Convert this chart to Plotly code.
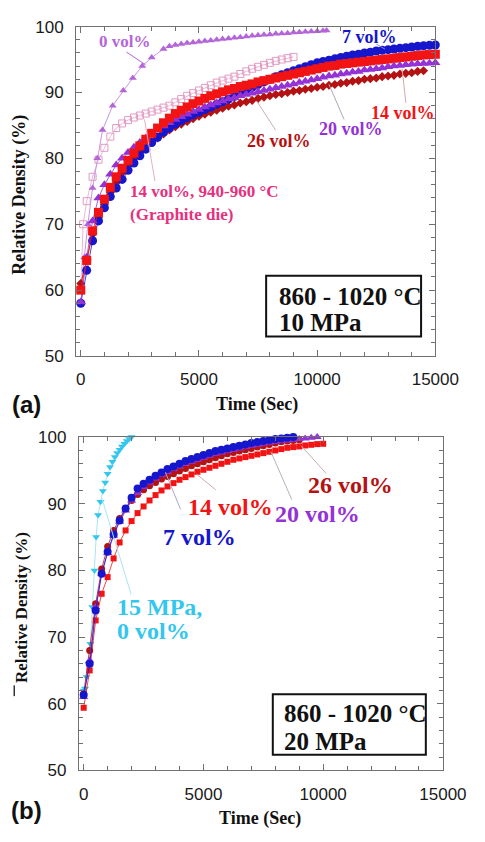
import plotly.graph_objects as go

W, H = 485, 842

# ---------------- data ----------------
T_GRID = [0, 250, 500, 750, 1000, 1250, 1500, 1750, 2000, 2250, 2500, 2750, 3000, 3250, 3500, 3750,
          4000, 4250, 4500, 4750, 5000, 5250, 5500, 5750, 6000, 6250, 6500, 6750, 7000, 7250, 7500,
          7750, 8000, 8250, 8500, 8750, 9000, 9250, 9500, 9750, 10000, 10250, 10500, 10750, 11000,
          11250, 11500, 11750, 12000, 12250, 12500, 12750, 13000, 13250, 13500, 13750, 14000, 14250,
          14500, 14750, 15000]

# (a) 10 MPa
a_7vol = [58.0, 63.0, 67.5, 70.5, 72.5, 74.2, 75.5, 76.8, 78.2, 79.3, 80.4, 81.4, 82.4, 83.2, 84.0, 84.6,
          85.2, 85.7, 86.2, 86.6, 87.0, 87.4, 87.8, 88.2, 88.6, 89.0, 89.4, 89.9, 90.4, 90.8, 91.2,
          91.6, 92.0, 92.4, 92.7, 93.0, 93.3, 93.6, 93.9, 94.2, 94.5, 94.7, 94.9, 95.1, 95.3,
          95.5, 95.7, 95.8, 96.0, 96.1, 96.3, 96.4, 96.5, 96.6, 96.7, 96.8, 96.9, 97.0,
          97.1, 97.15, 97.2]
a_14vol = [60.0, 64.5, 69.0, 71.8, 73.8, 75.6, 77.2, 78.5, 79.7, 80.8, 81.9, 82.9, 83.8, 84.6, 85.4, 86.1,
           86.8, 87.3, 87.8, 88.3, 88.7, 89.1, 89.5, 89.8, 90.1, 90.4, 90.6, 90.9, 91.1, 91.3, 91.6,
           91.8, 92.0, 92.2, 92.4, 92.6, 92.8, 93.0, 93.2, 93.4, 93.6, 93.8, 94.0, 94.1, 94.3,
           94.4, 94.5, 94.6, 94.7, 94.8, 94.9, 95.0, 95.1, 95.2, 95.3, 95.4, 95.5, 95.6,
           95.7, 95.75, 95.8]
a_20vol = [58.2, 65.0, 70.5, 74.0, 76.0, 77.6, 79.0, 80.0, 80.9, 81.7, 82.4, 83.1, 83.8, 84.4, 84.9, 85.4,
           85.9, 86.3, 86.7, 87.1, 87.4, 87.8, 88.1, 88.4, 88.7, 89.0, 89.2, 89.5, 89.7, 89.9, 90.1,
           90.3, 90.5, 90.7, 90.9, 91.1, 91.3, 91.5, 91.7, 91.9, 92.1, 92.3, 92.5, 92.6, 92.8,
           92.9, 93.1, 93.2, 93.4, 93.5, 93.6, 93.7, 93.9, 94.0, 94.1, 94.2, 94.3, 94.35,
           94.4, 94.45, 94.5]
a_26vol = [61.0, 64.5, 68.5, 71.0, 73.0, 74.8, 76.4, 77.8, 79.0, 80.0, 80.9, 81.7, 82.5, 83.1, 83.7, 84.3,
           84.8, 85.2, 85.6, 86.0, 86.4, 86.7, 87.0, 87.3, 87.6, 87.9, 88.1, 88.4, 88.6, 88.8, 89.1,
           89.3, 89.5, 89.7, 89.8, 90.0, 90.2, 90.3, 90.5, 90.6, 90.8, 90.9, 91.1, 91.2, 91.4,
           91.5, 91.7, 91.8, 92.0, 92.1, 92.2, 92.4, 92.5, 92.6, 92.8, 92.9, 93.0, 93.2,
           93.3]

a_0vol_t = [0, 150, 300, 500, 700, 920, 1350, 1800, 2200, 2600, 3000, 3500, 3750, 4000, 4250, 4500,
            4750, 5000, 5250, 5500, 5750, 6000, 6250, 6500, 6750, 7000, 7250, 7500, 7750, 8000,
            8250, 8500, 8750, 9000, 9250, 9500, 9750, 10000, 10250, 10400]
a_0vol = [60.0, 65.0, 70.0, 75.5, 80.0, 84.3, 88.0, 90.3, 92.2, 94.0, 95.3, 96.6, 97.0, 97.2, 97.35, 97.5,
          97.6, 97.7, 97.8, 97.9, 98.0, 98.1, 98.2, 98.3, 98.4, 98.5, 98.6, 98.7, 98.75, 98.8,
          98.9, 98.95, 99.0, 99.1, 99.15, 99.2, 99.25, 99.3, 99.35, 99.4]

a_gr_t = [0, 100, 250, 500, 750, 1000, 1250, 1500, 1750, 2000, 2250, 2500, 2750, 3000, 3250, 3500,
          3750, 4000, 4250, 4500, 4750, 5000, 5250, 5500, 5750, 6000, 6250, 6500, 6750, 7000,
          7250, 7500, 7750, 8000, 8250, 8500, 8750, 9000]
a_gr = [60.0, 70.0, 73.5, 77.2, 79.8, 81.6, 83.3, 84.6, 85.3, 85.8, 86.2, 86.5, 86.8, 87.1, 87.4, 87.7,
        88.0, 88.5, 89.0, 89.5, 89.9, 90.3, 90.7, 91.1, 91.5, 91.8, 92.1, 92.4, 92.8, 93.2,
        93.6, 93.9, 94.2, 94.5, 94.8, 95.0, 95.2, 95.4]

# (b) 20 MPa
b_7vol = [61.3, 66.0, 74.0, 79.5, 82.8, 85.4, 87.5, 89.3, 90.9, 92.3, 93.0, 93.6, 94.2, 94.7, 95.2, 95.6,
          96.0, 96.4, 96.7, 97.0, 97.3, 97.6, 97.9, 98.1, 98.3, 98.5, 98.7, 98.9, 99.1, 99.25, 99.4,
          99.55, 99.7, 99.8, 99.9, 100.0]
b_20vol = [61.0, 66.5, 74.5, 79.5, 82.6, 85.2, 87.3, 89.0, 90.5, 91.6, 92.5, 93.2, 93.8, 94.3, 94.8, 95.2,
           95.6, 96.0, 96.3, 96.6, 96.9, 97.2, 97.5, 97.7, 97.9, 98.1, 98.3, 98.5, 98.7, 98.85, 99.0,
           99.15, 99.3, 99.4, 99.5, 99.6, 99.7, 99.8, 99.9, 100.0]
b_26vol = [61.5, 68.0, 75.0, 80.2, 83.6, 86.0, 87.8, 89.3, 90.5, 91.4, 92.1, 92.7, 93.2, 93.7, 94.1, 94.5,
           94.9, 95.3, 95.7, 96.0, 96.3, 96.6, 96.9, 97.2, 97.5, 97.7, 97.9, 98.1, 98.3, 98.5, 98.7,
           98.9, 99.1, 99.3, 99.4, 99.5, 99.6]
b_14vol = [59.4, 65.0, 72.5, 76.5, 79.0, 81.8, 84.2, 86.0, 87.4, 88.6, 89.6, 90.5, 91.3, 92.0, 92.6, 93.1,
           93.6, 94.0, 94.4, 94.8, 95.1, 95.4, 95.7, 96.0, 96.3, 96.6, 96.8, 97.0, 97.2, 97.4, 97.6,
           97.8, 98.0, 98.2, 98.4, 98.5, 98.6, 98.75, 98.85, 98.95, 99.0]
b_15mpa_t = [0, 60, 120, 200, 280, 360, 450, 520, 600, 700, 800, 900, 1000, 1100, 1200, 1300, 1400,
             1500, 1600, 1700, 1800, 1900, 2000]
b_15mpa = [62.0, 62.3, 64.0, 66.0, 69.0, 74.5, 80.0, 85.0, 88.3, 90.3, 91.9, 93.2, 94.5, 95.5, 96.3, 97.0,
           97.6, 98.1, 98.6, 99.0, 99.4, 99.7, 100.0]

X_TICKS = [0, 5000, 10000, 15000]
X_LABELS = ["0", "5000", "10000", "15000"]
Y_TICKS = [50, 60, 70, 80, 90, 100]
Y_LABELS = ["50", "60", "70", "80", "90", "100"]

# ---------------- helpers ----------------
def px(x):
    return x / W

def py(y):
    return 1 - y / H

BLUE = "#1616CC"
RED = "#F21414"
PURPLE = "#9432D6"
DARKRED = "#B41212"
VIOLET = "#B466D8"
PINK = "#E39AC4"
CYAN = "#33C6EE"

fig = go.Figure()

def add(x, y, name, color, symbol, size, ax, lcolor=None, lw=0.8):
    mline = dict(width=1, color=color) if "open" in symbol else dict(width=0)
    fig.add_trace(go.Scatter(
        x=x, y=y, name=name, mode="lines+markers",
        line=dict(color=lcolor or color, width=lw),
        marker=dict(symbol=symbol, size=size, color=color, line=mline),
        cliponaxis=False,
        xaxis="x" if ax == 1 else "x2", yaxis="y" if ax == 1 else "y2", showlegend=False))

# panel (a)
add(a_gr_t, a_gr, "14 vol%, graphite die", PINK, "square-open", 7, 1, lcolor="#EAB8D4", lw=1)
add(a_0vol_t, a_0vol, "0 vol%", VIOLET, "triangle-up", 7, 1, lcolor="#C995E2", lw=1)
add(T_GRID[:len(a_26vol)], a_26vol, "26 vol%", DARKRED, "diamond", 7, 1)
add(T_GRID[:len(a_7vol)], a_7vol, "7 vol%", BLUE, "circle", 9, 1)
add(T_GRID[:len(a_20vol)], a_20vol, "20 vol%", PURPLE, "triangle-up", 9, 1)
add(T_GRID[:len(a_14vol)], a_14vol, "14 vol%", RED, "square", 9, 1)

# panel (b)
add(b_15mpa_t, b_15mpa, "15 MPa, 0 vol%", CYAN, "triangle-down", 7, 2, lcolor="#A6E6F6", lw=1)
add(T_GRID[:len(b_14vol)], b_14vol, "14 vol%", RED, "square", 6, 2)
add(T_GRID[:len(b_26vol)], b_26vol, "26 vol%", DARKRED, "circle", 7, 2)
add(T_GRID[:len(b_20vol)], b_20vol, "20 vol%", PURPLE, "triangle-up", 8, 2)
add(T_GRID[:len(b_7vol)], b_7vol, "7 vol%", BLUE, "circle", 8, 2)

AXC = "#707070"
tickfont = dict(family="Liberation Sans, Arial, sans-serif", size=17, color="#1a1a1a")

def xax(domain, anchor):
    return dict(domain=domain, anchor=anchor, range=[-200, 15000], tickvals=X_TICKS, ticktext=X_LABELS,
                showline=True, linecolor=AXC, linewidth=1, mirror="allticks",
                ticks="inside", ticklen=6, tickcolor=AXC, tickfont=tickfont,
                minor=dict(dtick=1000, tick0=0, ticks="inside", ticklen=4, tickcolor=AXC),
                showgrid=False, zeroline=False, ticklabelstandoff=8)

def yax(domain, anchor):
    return dict(domain=domain, anchor=anchor, range=[50, 100], tickvals=Y_TICKS, ticktext=Y_LABELS,
                showline=True, linecolor=AXC, linewidth=1, mirror="allticks",
                ticks="inside", ticklen=6, tickcolor=AXC, tickfont=tickfont,
                minor=dict(dtick=2, tick0=50, ticks="inside", ticklen=4, tickcolor=AXC),
                showgrid=False, zeroline=False, ticklabelstandoff=8)

serif = "Liberation Serif, Times New Roman, serif"
sans = "Liberation Sans, Arial, sans-serif"

ann = []
def text(x, y, s, size, color="#111", family=serif, angle=0, xanchor="center", bold=True):
    ann.append(dict(x=px(x), y=py(y), xref="paper", yref="paper", text=("<b>%s</b>" % s) if bold else s,
                    showarrow=False, font=dict(family=family, size=size, color=color),
                    textangle=angle, xanchor=xanchor, yanchor="middle"))

shapes = []
def seg(x0, y0, x1, y1, color, w=1):
    shapes.append(dict(type="line", xref="paper", yref="paper", x0=px(x0), y0=py(y0), x1=px(x1), y1=py(y1),
                       line=dict(color=color, width=w)))

def box(x0, y0, x1, y1):
    shapes.append(dict(type="rect", xref="paper", yref="paper", x0=px(x0), y0=py(y0), x1=px(x1), y1=py(y1),
                       line=dict(color="#111", width=2), fillcolor="rgba(0,0,0,0)"))

# axis titles and panel letters
text(21, 190, "Relative Density (%)", 18, angle=-90)
text(270, 405, "Time (Sec)", 18)
text(28, 405, "(a)", 24, family=sans, color="#111")
text(22, 612, "Relative Density (%)", 17, angle=-90)
seg(15, 692, 15, 703, "#333", 1.5)
text(274, 828, "Time (Sec)", 18)
text(28, 820, "(b)", 24, family=sans, color="#111")

# panel (a) labels
text(102, 33, "0 vol%", 17, VIOLET, xanchor="left")
seg(133, 44, 153, 57, VIOLET)
text(358, 29, "7 vol%", 18, BLUE, xanchor="left")
seg(396, 36, 405, 41, "#8C8CC0")
text(388, 106, "14 vol%", 18, RED, xanchor="left")
seg(427, 96, 423, 61, "#D4A8A8")
text(333, 123, "20 vol%", 18, PURPLE, xanchor="left")
seg(362, 113, 346, 77, "#B0A8B8")
text(258, 135, "26 vol%", 18, DARKRED, xanchor="left")
seg(290, 124, 270, 94, "#C8B0B0")
text(135, 187, "14 vol%, 940-960 °C", 17, "#E6307E", xanchor="left")
text(135, 210, "(Graphite die)", 17, "#E6307E", xanchor="left")
seg(163, 176, 152, 113, "#E6B0C4")
box(280, 273, 443, 335)
text(291, 294, "860 - 1020 °C", 25, xanchor="left")
text(291, 321, "10 MPa", 25, xanchor="left")

# panel (b) labels
text(121, 612, "15 MPa,", 24, CYAN, xanchor="left")
text(121, 636, "0 vol%", 24, CYAN, xanchor="left")
seg(138, 599, 107, 500, "#A6E6F6")
text(169, 540, "7 vol%", 24, BLUE, xanchor="left")
seg(190, 512, 174, 474, "#A8A8C8")
text(196, 510, "14 vol%", 24, RED, xanchor="left")
seg(227, 492, 207, 476, "#D4A8A8")
text(287, 517, "20 vol%", 24, PURPLE, xanchor="left")
seg(307, 502, 285, 453, "#B8B0C0")
text(322, 487, "26 vol%", 24, DARKRED, xanchor="left")
seg(343, 475, 317, 447, "#C8B0B0")
box(287, 701, 448, 763)
text(297, 721, "860 - 1020 °C", 25, xanchor="left")
text(297, 749, "20 MPa", 25, xanchor="left")

fig.update_layout(
    width=W, height=H, margin=dict(l=0, r=0, t=0, b=0),
    paper_bgcolor="white", plot_bgcolor="white", showlegend=False,
    xaxis=xax([px(80), px(458)], "y"),
    yaxis=yax([py(355), py(18)], "x"),
    xaxis2=xax([px(83), px(466)], "y2"),
    yaxis2=yax([py(779), py(438)], "x2"),
    annotations=ann, shapes=shapes,
)

fig.write_html("out.html")
